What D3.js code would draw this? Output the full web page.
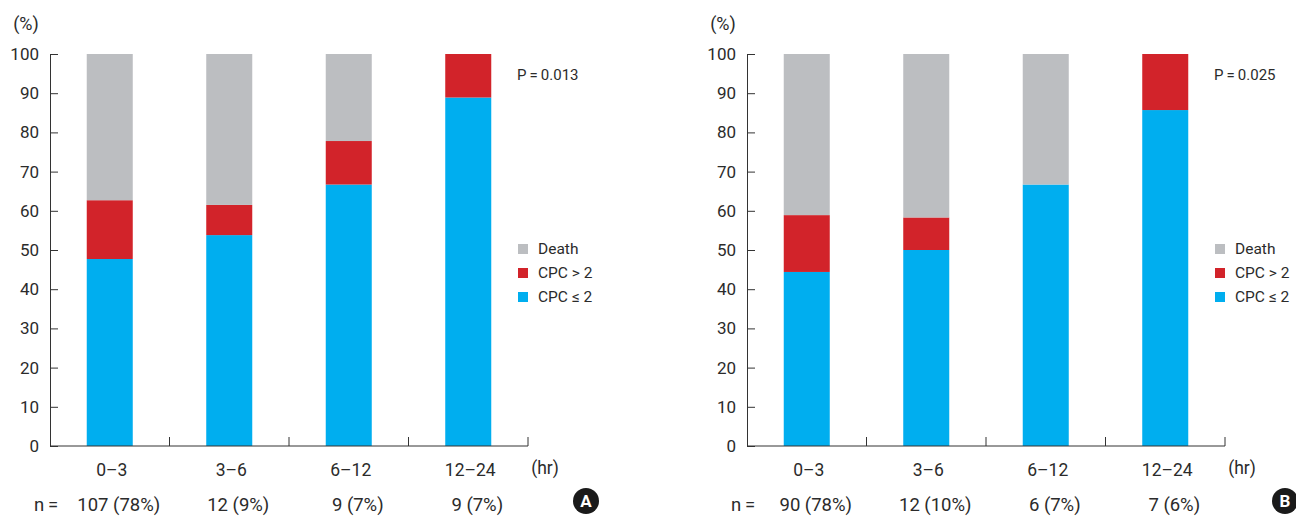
<!DOCTYPE html>
<head>
  <meta charset="utf-8">
  <title>CPC by time interval</title>
  <script src="https://cdn.jsdelivr.net/npm/d3@7"></script>
  <style>
    body { margin: 0; background: #fff; }
    svg text { font-family: Roboto, "Liberation Sans", sans-serif; fill: #2b2b2b; }
  </style>
</head>
<body>
<div id="container"></div>
<script>
// Data
const categories = ["0\u20133", "3\u20136", "6\u201312", "12\u201324"];
const yTicks = [0, 10, 20, 30, 40, 50, 60, 70, 80, 90, 100];
const seriesNames = ["CPC \u2264 2", "CPC > 2", "Death"];

// panel A
const goodA = [47.7, 53.8, 66.7, 88.9];
const poorA = [15.0, 7.7, 11.1, 11.1];
const deathA = [37.3, 38.5, 22.2, 0];
const nA = ["107 (78%)", "12 (9%)", "9 (7%)", "9 (7%)"];
const pA = "P\u2009=\u20090.013";

// panel B
const goodB = [44.4, 50.0, 66.7, 85.7];
const poorB = [14.5, 8.3, 0, 14.3];
const deathB = [41.1, 41.7, 33.3, 0];
const nB = ["90 (78%)", "12 (10%)", "6 (7%)", "7 (6%)"];
const pB = "P\u2009=\u20090.025";

const colors = ["#00aeef", "#d2232a", "#bcbec1"];

const W = 1296, H = 516;
const svg = d3.select("#container").append("svg")
  .attr("width", W).attr("height", H);

// geometry of one panel (relative to its y axis)
const axisW = 478;
const yTop = 54, yBottom = 446;

function drawPanel(x0, good, poor, death, nLabels, pText, letter, letterX) {
  const g = svg.append("g").attr("transform", `translate(${x0},0)`);

  const rows = categories.map((c, i) => ({cat: c, good: good[i], poor: poor[i], death: death[i]}));
  const stack = d3.stack().keys(["good", "poor", "death"])(rows);

  const x = d3.scaleBand()
    .domain(categories)
    .range([0, axisW])
    .paddingInner(0.615)
    .paddingOuter(0.3075);

  const y = d3.scaleLinear().domain([0, 100]).range([yBottom, yTop]);

  // bars
  g.selectAll(".layer")
    .data(stack)
    .join("g")
    .attr("fill", (d, i) => colors[i])
    .selectAll("rect")
    .data(d => d)
    .join("rect")
    .attr("x", d => x(d.data.cat))
    .attr("width", x.bandwidth())
    .attr("y", d => y(d[1]))
    .attr("height", d => y(d[0]) - y(d[1]));

  // y axis (ticks pointing inward)
  const yAxis = g.append("g")
    .call(d3.axisLeft(y).tickValues(yTicks).tickSize(-8).tickSizeOuter(0).tickPadding(11));
  yAxis.select(".domain").attr("stroke", "#333");
  yAxis.selectAll(".tick line").attr("stroke", "#333");
  yAxis.selectAll("text").style("font-size", "17px").attr("fill", "#2b2b2b");

  // x axis with group dividers
  g.append("line")
    .attr("x1", 0).attr("x2", axisW)
    .attr("y1", yBottom).attr("y2", yBottom)
    .attr("stroke", "#333");
  g.selectAll(".divider")
    .data(d3.range(1, categories.length + 1))
    .join("line")
    .attr("x1", i => i * x.step()).attr("x2", i => i * x.step())
    .attr("y1", yBottom).attr("y2", yBottom - 9)
    .attr("stroke", "#333");

  // category labels
  g.selectAll(".cat")
    .data(categories)
    .join("text")
    .attr("x", d => x(d) + x.bandwidth() / 2 + 2)
    .attr("y", 470)
    .attr("dy", "0.35em")
    .attr("text-anchor", "middle")
    .style("font-size", "17.5px")
    .text(d => d);

  // n labels
  g.selectAll(".nlab")
    .data(nLabels)
    .join("text")
    .attr("x", (d, i) => x(categories[i]) + x.bandwidth() / 2 + 9)
    .attr("y", 505)
    .attr("dy", "0.35em")
    .attr("text-anchor", "middle")
    .style("font-size", "18.5px")
    .text(d => d);

  g.append("text")
    .attr("x", 12).attr("y", 505).attr("dy", "0.35em")
    .attr("text-anchor", "end")
    .style("font-size", "18.5px")
    .text("n\u2009=\u2009");

  g.append("text")
    .attr("x", axisW + 17).attr("y", 468).attr("dy", "0.35em")
    .attr("text-anchor", "middle")
    .style("font-size", "17.5px")
    .text("(hr)");

  g.append("text")
    .attr("x", -24).attr("y", 24).attr("dy", "0.35em")
    .attr("text-anchor", "middle")
    .style("font-size", "18px")
    .text("(%)");

  // p value
  g.append("text")
    .attr("x", 467).attr("y", 75).attr("dy", "0.35em")
    .style("font-size", "15px")
    .text(pText);

  // legend (top to bottom: Death, CPC > 2, CPC <= 2)
  const legendOrder = [2, 1, 0];
  const leg = g.selectAll(".leg")
    .data(legendOrder)
    .join("g")
    .attr("transform", (d, i) => `translate(468,${249 + i * 24})`);
  leg.append("rect")
    .attr("x", 0).attr("y", -5)
    .attr("width", 10).attr("height", 10)
    .attr("fill", d => colors[d]);
  leg.append("text")
    .attr("x", 20).attr("dy", "0.35em")
    .style("font-size", "15.5px")
    .text(d => seriesNames[d]);

  // panel letter
  svg.append("circle")
    .attr("cx", letterX).attr("cy", 501).attr("r", 13)
    .attr("fill", "#1a1a1a");
  svg.append("text")
    .attr("x", letterX).attr("y", 501).attr("dy", "0.36em")
    .attr("text-anchor", "middle")
    .style("font-size", "17px")
    .style("font-weight", "bold")
    .style("fill", "#fff")
    .text(letter);
}

drawPanel(50, goodA, poorA, deathA, nA, pA, "A", 586);
drawPanel(747, goodB, poorB, deathB, nB, pB, "B", 1285);
</script>
</body>
